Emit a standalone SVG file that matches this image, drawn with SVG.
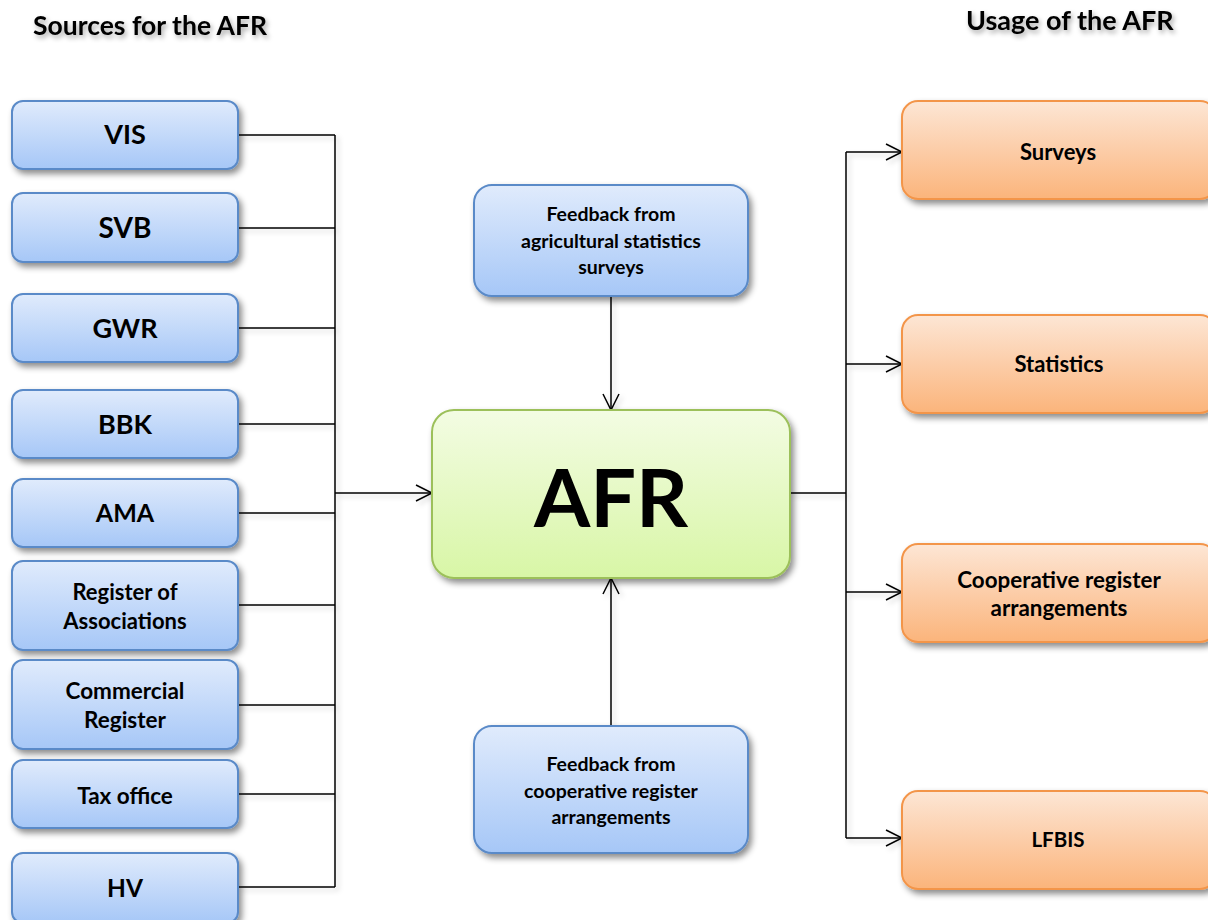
<svg xmlns="http://www.w3.org/2000/svg" width="1208" height="920" viewBox="0 0 1208 920">
<defs>
  <linearGradient id="gBlue" x1="0" y1="0" x2="0" y2="1">
    <stop offset="0" stop-color="#e0ebfc"/>
    <stop offset="1" stop-color="#a6c7f7"/>
  </linearGradient>
  <linearGradient id="gGreen" x1="0" y1="0" x2="0" y2="1">
    <stop offset="0" stop-color="#f3fce3"/>
    <stop offset="1" stop-color="#d8f6a6"/>
  </linearGradient>
  <linearGradient id="gOrange" x1="0" y1="0" x2="0" y2="1">
    <stop offset="0" stop-color="#fde6d5"/>
    <stop offset="1" stop-color="#fbb47b"/>
  </linearGradient>
  <filter id="sh" x="-10%" y="-20%" width="130%" height="150%">
    <feDropShadow dx="3" dy="4" stdDeviation="3" flood-color="#000" flood-opacity="0.45"/>
  </filter>
  <filter id="lsh" x="-20%" y="-20%" width="140%" height="140%">
    <feDropShadow dx="3" dy="3" stdDeviation="2.5" flood-color="#000" flood-opacity="0.18"/>
  </filter>
  <filter id="tsh" x="-10%" y="-30%" width="120%" height="180%">
    <feDropShadow dx="2" dy="3" stdDeviation="2.5" flood-color="#000" flood-opacity="0.35"/>
  </filter>
  <marker id="arr" markerUnits="userSpaceOnUse" markerWidth="20" markerHeight="20" refX="17" refY="9" orient="auto">
    <path d="M1,1 L17,9 L1,17" fill="none" stroke="#000" stroke-width="1.5"/>
  </marker>
</defs>
<style>
  .blue { fill: url(#gBlue); stroke: #5a8ac8; stroke-width: 2; filter: url(#sh); }
  .green { fill: url(#gGreen); stroke: #9cc05a; stroke-width: 2; filter: url(#sh); }
  .orange { fill: url(#gOrange); stroke: #f3954a; stroke-width: 2; filter: url(#sh); }
  text { font-family: Lato, "Open Sans", "Liberation Sans", sans-serif; font-weight: bold; fill: #000; text-anchor: middle; }
  .conn { fill: none; stroke: #000; stroke-width: 1.5; }
  .title { filter: url(#tsh); text-anchor: start; }
</style>
<rect width="1208" height="920" fill="#fff"/>

<text class="title" x="33" y="35" font-size="26.5">Sources for the AFR</text>
<text class="title" x="966" y="30" font-size="27">Usage of the AFR</text>

<g id="connectors" filter="url(#lsh)">
  <path class="conn" d="M238,135 H335 M238,228 H335 M238,328 H335 M238,424 H335 M238,513 H335 M238,605 H335 M238,705 H335 M238,794 H335 M238,887 H335 M335,135 V887"/>
  <path class="conn" d="M335,493 H432" marker-end="url(#arr)"/>
  <path class="conn" d="M611,296 V410" marker-end="url(#arr)"/>
  <path class="conn" d="M611,726 V578" marker-end="url(#arr)"/>
  <path class="conn" d="M790,493 H846 M846,152 V838"/>
  <path class="conn" d="M846,152 H902" marker-end="url(#arr)"/>
  <path class="conn" d="M846,364 H902" marker-end="url(#arr)"/>
  <path class="conn" d="M846,592 H902" marker-end="url(#arr)"/>
  <path class="conn" d="M846,838 H902" marker-end="url(#arr)"/>
</g>

<g id="vis"><rect class="blue" x="12" y="101" width="226" height="68" rx="11"/><text x="125" y="144" font-size="27">VIS</text></g>
<g id="svb"><rect class="blue" x="12" y="193" width="226" height="69" rx="11"/><text x="125" y="238" font-size="28">SVB</text></g>
<g id="gwr"><rect class="blue" x="12" y="294" width="226" height="68" rx="11"/><text x="125" y="338" font-size="27">GWR</text></g>
<g id="bbk"><rect class="blue" x="12" y="390" width="226" height="68" rx="11"/><text x="125" y="434" font-size="27">BBK</text></g>
<g id="ama"><rect class="blue" x="12" y="479" width="226" height="68" rx="11"/><text x="125" y="522" font-size="25">AMA</text></g>
<g id="register-assoc"><rect class="blue" x="12" y="561" width="226" height="89" rx="11"/><text x="125" y="600" font-size="22">Register of</text><text x="125" y="629" font-size="22">Associations</text></g>
<g id="commercial"><rect class="blue" x="12" y="660" width="226" height="89" rx="11"/><text x="125" y="699" font-size="22.5">Commercial</text><text x="125" y="728" font-size="22.5">Register</text></g>
<g id="tax"><rect class="blue" x="12" y="760" width="226" height="68" rx="11"/><text x="125" y="804" font-size="22.5">Tax office</text></g>
<g id="hv"><rect class="blue" x="12" y="853" width="226" height="70" rx="11"/><text x="125" y="897" font-size="24.5">HV</text></g>

<g id="feedback-surveys"><rect class="blue" x="474" y="185" width="274" height="111" rx="18"/><text x="611" y="221" font-size="19.5">Feedback from</text><text x="611" y="248" font-size="19.5">agricultural statistics</text><text x="611" y="274" font-size="19.5">surveys</text></g>
<g id="feedback-coop"><rect class="blue" x="474" y="726" width="274" height="127" rx="18"/><text x="611" y="771" font-size="19.5">Feedback from</text><text x="611" y="798" font-size="19.5">cooperative register</text><text x="611" y="824" font-size="19.5">arrangements</text></g>

<g id="afr"><rect class="green" x="432" y="410" width="358" height="168" rx="22"/><text x="611" y="527" font-size="81">AFR</text></g>

<g id="surveys"><rect class="orange" x="902" y="101" width="314" height="98" rx="16"/><text x="1058" y="160" font-size="22">Surveys</text></g>
<g id="statistics"><rect class="orange" x="902" y="315" width="314" height="98" rx="16"/><text x="1059" y="372" font-size="22">Statistics</text></g>
<g id="coop"><rect class="orange" x="902" y="544" width="314" height="98" rx="16"/><text x="1059" y="588" font-size="22.4">Cooperative register</text><text x="1059" y="616" font-size="22.4">arrangements</text></g>
<g id="lfbis"><rect class="orange" x="902" y="791" width="314" height="98" rx="16"/><text x="1058" y="847" font-size="20.5">LFBIS</text></g>
</svg>
